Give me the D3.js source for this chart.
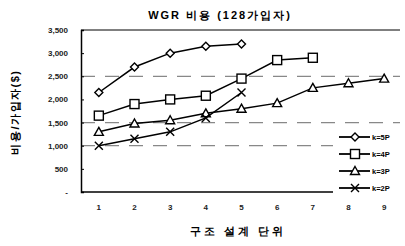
<!DOCTYPE html>
<html><head><meta charset="utf-8">
<script src="https://cdn.jsdelivr.net/npm/d3@7"></script>
<style>body{margin:0;background:#fff}svg{display:block}text{font-family:"Liberation Sans",Arial,sans-serif}</style>
</head><body><svg id="c" width="405" height="246"></svg>
<script>
const categories = ["1","2","3","4","5","6","7","8","9"];
const seriesNames = ["k=5P","k=4P","k=3P","k=2P"];
const k5 = [2150, 2700, 3000, 3150, 3200];
const k4 = [1650, 1900, 2000, 2080, 2450, 2850, 2900];
const k3 = [1300, 1480, 1550, 1700, 1800, 1920, 2250, 2350, 2450];
const k2 = [1000, 1150, 1300, 1600, 2150];
const yTicks = [0, 500, 1000, 1500, 2000, 2500, 3000, 3500];
const yTickLabels = ["-", "500", "1,000", "1,500", "2,000", "2,500", "3,000", "3,500"];
const gridValues = [1000, 1500, 2500];
const title = "WGR 비용 (128가입자)";
const xTitle = "구조 설계 단위";
const yTitle = "비용/가입자($)";
const markers = ["diamond","square","triangle","cross"];

const svg = d3.select("#c");
const L = 81, R = 402, T = 30, B = 192;
const x = d3.scaleBand().domain(categories).range([L, R]);
const y = d3.scaleLinear().domain([0, 3500]).range([B, T]);

// gridlines
svg.append("g").selectAll("line").data(gridValues).join("line")
  .attr("x1", L).attr("x2", 400).attr("y1", d => y(d)).attr("y2", d => y(d))
  .attr("stroke", "#888").attr("stroke-width", 1.2).attr("stroke-dasharray", "14,10");

// top border
svg.append("line").attr("x1", L).attr("x2", 400).attr("y1", T).attr("y2", T).attr("stroke", "#000").attr("stroke-width", 1);

// y axis
const ya = svg.append("g").attr("transform", `translate(${L},0)`)
  .call(d3.axisLeft(y).tickValues(yTicks).tickSize(-3).tickPadding(13).tickFormat((d, i) => yTickLabels[i]));
ya.select(".domain").attr("stroke-width", 1.5);
ya.selectAll("text").attr("font-size", 8).attr("font-weight", "bold").attr("fill", "#222");

// x axis
const xa = svg.append("g").attr("transform", `translate(0,${B})`)
  .call(d3.axisBottom(x).tickSize(0).tickPadding(12));
xa.select(".domain").attr("stroke-width", 1.5).attr("d", `M${L},0H400`);
xa.selectAll("text").attr("font-size", 8).attr("font-weight", "bold").attr("fill", "#222");

// titles
svg.append("text").attr("x", 220).attr("y", 19).attr("text-anchor", "middle")
  .attr("font-size", 11).attr("font-weight", "bold").attr("letter-spacing", 2).text(title);
svg.append("text").attr("x", 238).attr("y", 235).attr("text-anchor", "middle")
  .attr("font-size", 11).attr("font-weight", "bold").attr("letter-spacing", 3).text(xTitle);
svg.append("text").attr("transform", "translate(19,112) rotate(-90)").attr("text-anchor", "middle")
  .attr("font-size", 11).attr("font-weight", "bold").attr("letter-spacing", 1.5).text(yTitle);

function drawMarker(g, type, cx, cy) {
  const s = {fill: "#fff", stroke: "#000", "stroke-width": 1.4};
  let el;
  if (type === "diamond") el = g.append("path").attr("d", `M${cx},${cy-4}L${cx+4},${cy}L${cx},${cy+4}L${cx-4},${cy}Z`);
  else if (type === "square") el = g.append("rect").attr("x", cx-4.5).attr("y", cy-4.5).attr("width", 9).attr("height", 9);
  else if (type === "triangle") el = g.append("path").attr("d", `M${cx},${cy-4.5}L${cx+4.5},${cy+3.5}L${cx-4.5},${cy+3.5}Z`);
  else el = g.append("path").attr("d", `M${cx-4},${cy-4}L${cx+4},${cy+4}M${cx-4},${cy+4}L${cx+4},${cy-4}`);
  Object.entries(s).forEach(([k, v]) => el.attr(k, v));
}

const allSeries = [k5, k4, k3, k2];
const line = d3.line().x((d, i) => x(categories[i]) + x.bandwidth() / 2).y(d => y(d));
allSeries.forEach((vals, si) => {
  const g = svg.append("g");
  g.append("path").attr("d", line(vals)).attr("fill", "none").attr("stroke", "#000").attr("stroke-width", 1.5);
  vals.forEach((v, i) => drawMarker(g, markers[si], x(categories[i]) + x.bandwidth() / 2, y(v)));
});

// legend
const leg = svg.append("g");
leg.append("rect").attr("x", 333).attr("y", 130).attr("width", 70).attr("height", 68).attr("fill", "#fff");
seriesNames.forEach((n, i) => {
  const ly = 137 + i * 17;
  leg.append("line").attr("x1", 339).attr("x2", 370).attr("y1", ly).attr("y2", ly).attr("stroke", "#000").attr("stroke-width", 1.8);
  drawMarker(leg, markers[i], 355, ly);
  leg.append("text").attr("x", 372).attr("y", ly + 3).attr("font-size", 7.5).attr("font-weight", "bold").text(n);
});
</script></body></html>
